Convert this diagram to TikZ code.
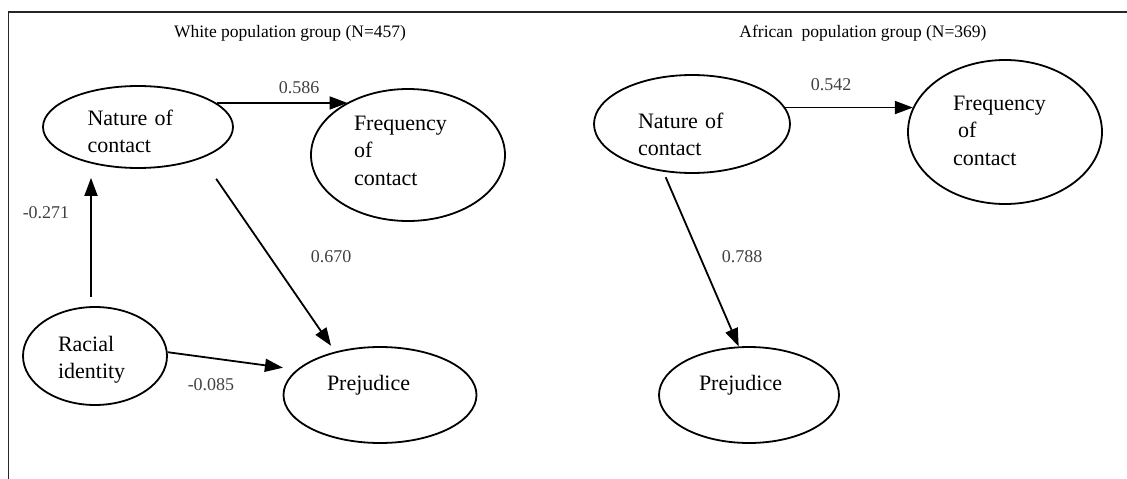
\documentclass[tikz,border=0pt]{standalone}
\usepackage{fontspec}
\setmainfont{Liberation Serif}
\usetikzlibrary{shapes.geometric,arrows.meta}
\begin{document}
\begin{tikzpicture}[x=1pt,y=-1pt,
  every node/.style={font=\fontsize{22}{27.5}\selectfont},
  oval/.style={ellipse, draw, line width=1.8pt, inner sep=0pt, text height=15pt, align=left},
  arr/.style={line width=1.8pt, -{Triangle[length=18pt,width=13pt]}},
  coef/.style={text=black!75, inner sep=0pt, font=\fontsize{18}{22}\selectfont},
  heading/.style={anchor=base, inner sep=0pt, font=\fontsize{17.5}{21}\selectfont}
]
\useasboundingbox (0,0) rectangle (1127,479);

% open frame: top rule and left rule
\draw[line width=1.2pt, black!85] (8,12) -- (1127,12);
\draw[line width=1.2pt, black!85] (8.5,12) -- (8.5,479);

% ---------- White population group ----------
\node[heading] (tWhite) at (290,37) {White population group (N=457)};

\node[oval, minimum width=190pt, minimum height=82pt, text width=101pt, text depth=19pt]
  (wNat) at (138,127) {Nature of\\contact};
\node[oval, minimum width=194pt, minimum height=132pt, text width=108pt, text depth=65pt]
  (wFreq) at (408,155) {Frequency\\of\\contact};
\node[oval, minimum width=144pt, minimum height=98pt, text width=74pt, text depth=25pt]
  (wRac) at (95,356) {Racial\\identity};
\node[oval, minimum width=193pt, minimum height=96pt, text width=106pt, text depth=25pt]
  (wPre) at (380,395) {Prejudice};

\draw[arr] (wNat.17) -- (wNat.17 -| wFreq.139);
\draw[arr, shorten <=9pt, shorten >=9pt]
  ([xshift=-4pt]wRac.north) -- ([xshift=-4pt]wRac.north |- wNat.south);
\draw[arr, shorten <=25pt, shorten >=7pt] (wNat.334) -- (wPre.136);
\draw[arr, shorten >=14pt] (wRac.3) -- (wPre.163);

\node[coef] (cW1) at (299,88) {0.586};
\node[coef] (cW2) at (46,213) {-0.271};
\node[coef] (cW3) at (331,257) {0.670};
\node[coef] (cW4) at (211,385) {-0.085};

% ---------- African population group ----------
\node[heading] (tAfrican) at (863,37) {African\ \ population group (N=369)};

\node[oval, minimum width=196pt, minimum height=98pt, text width=108pt, text depth=7pt]
  (aNat) at (692,124) {Nature of\\contact};
\node[oval, minimum width=194pt, minimum height=144pt, text width=104pt, text depth=59pt]
  (aFreq) at (1005,132) {Frequency\\\hspace*{5pt}of\\contact};
\node[oval, minimum width=180pt, minimum height=96pt, text width=100pt, text depth=25pt]
  (aPre) at (749,395) {Prejudice};

\draw[arr] (aNat.10) -- (aNat.10 -| aFreq.165);
\draw[arr, shorten <=6pt] (aNat.239) -- (aPre.102);

\node[coef] (cA1) at (831,85) {0.542};
\node[coef] (cA2) at (742,257) {0.788};
\end{tikzpicture}
\end{document}
